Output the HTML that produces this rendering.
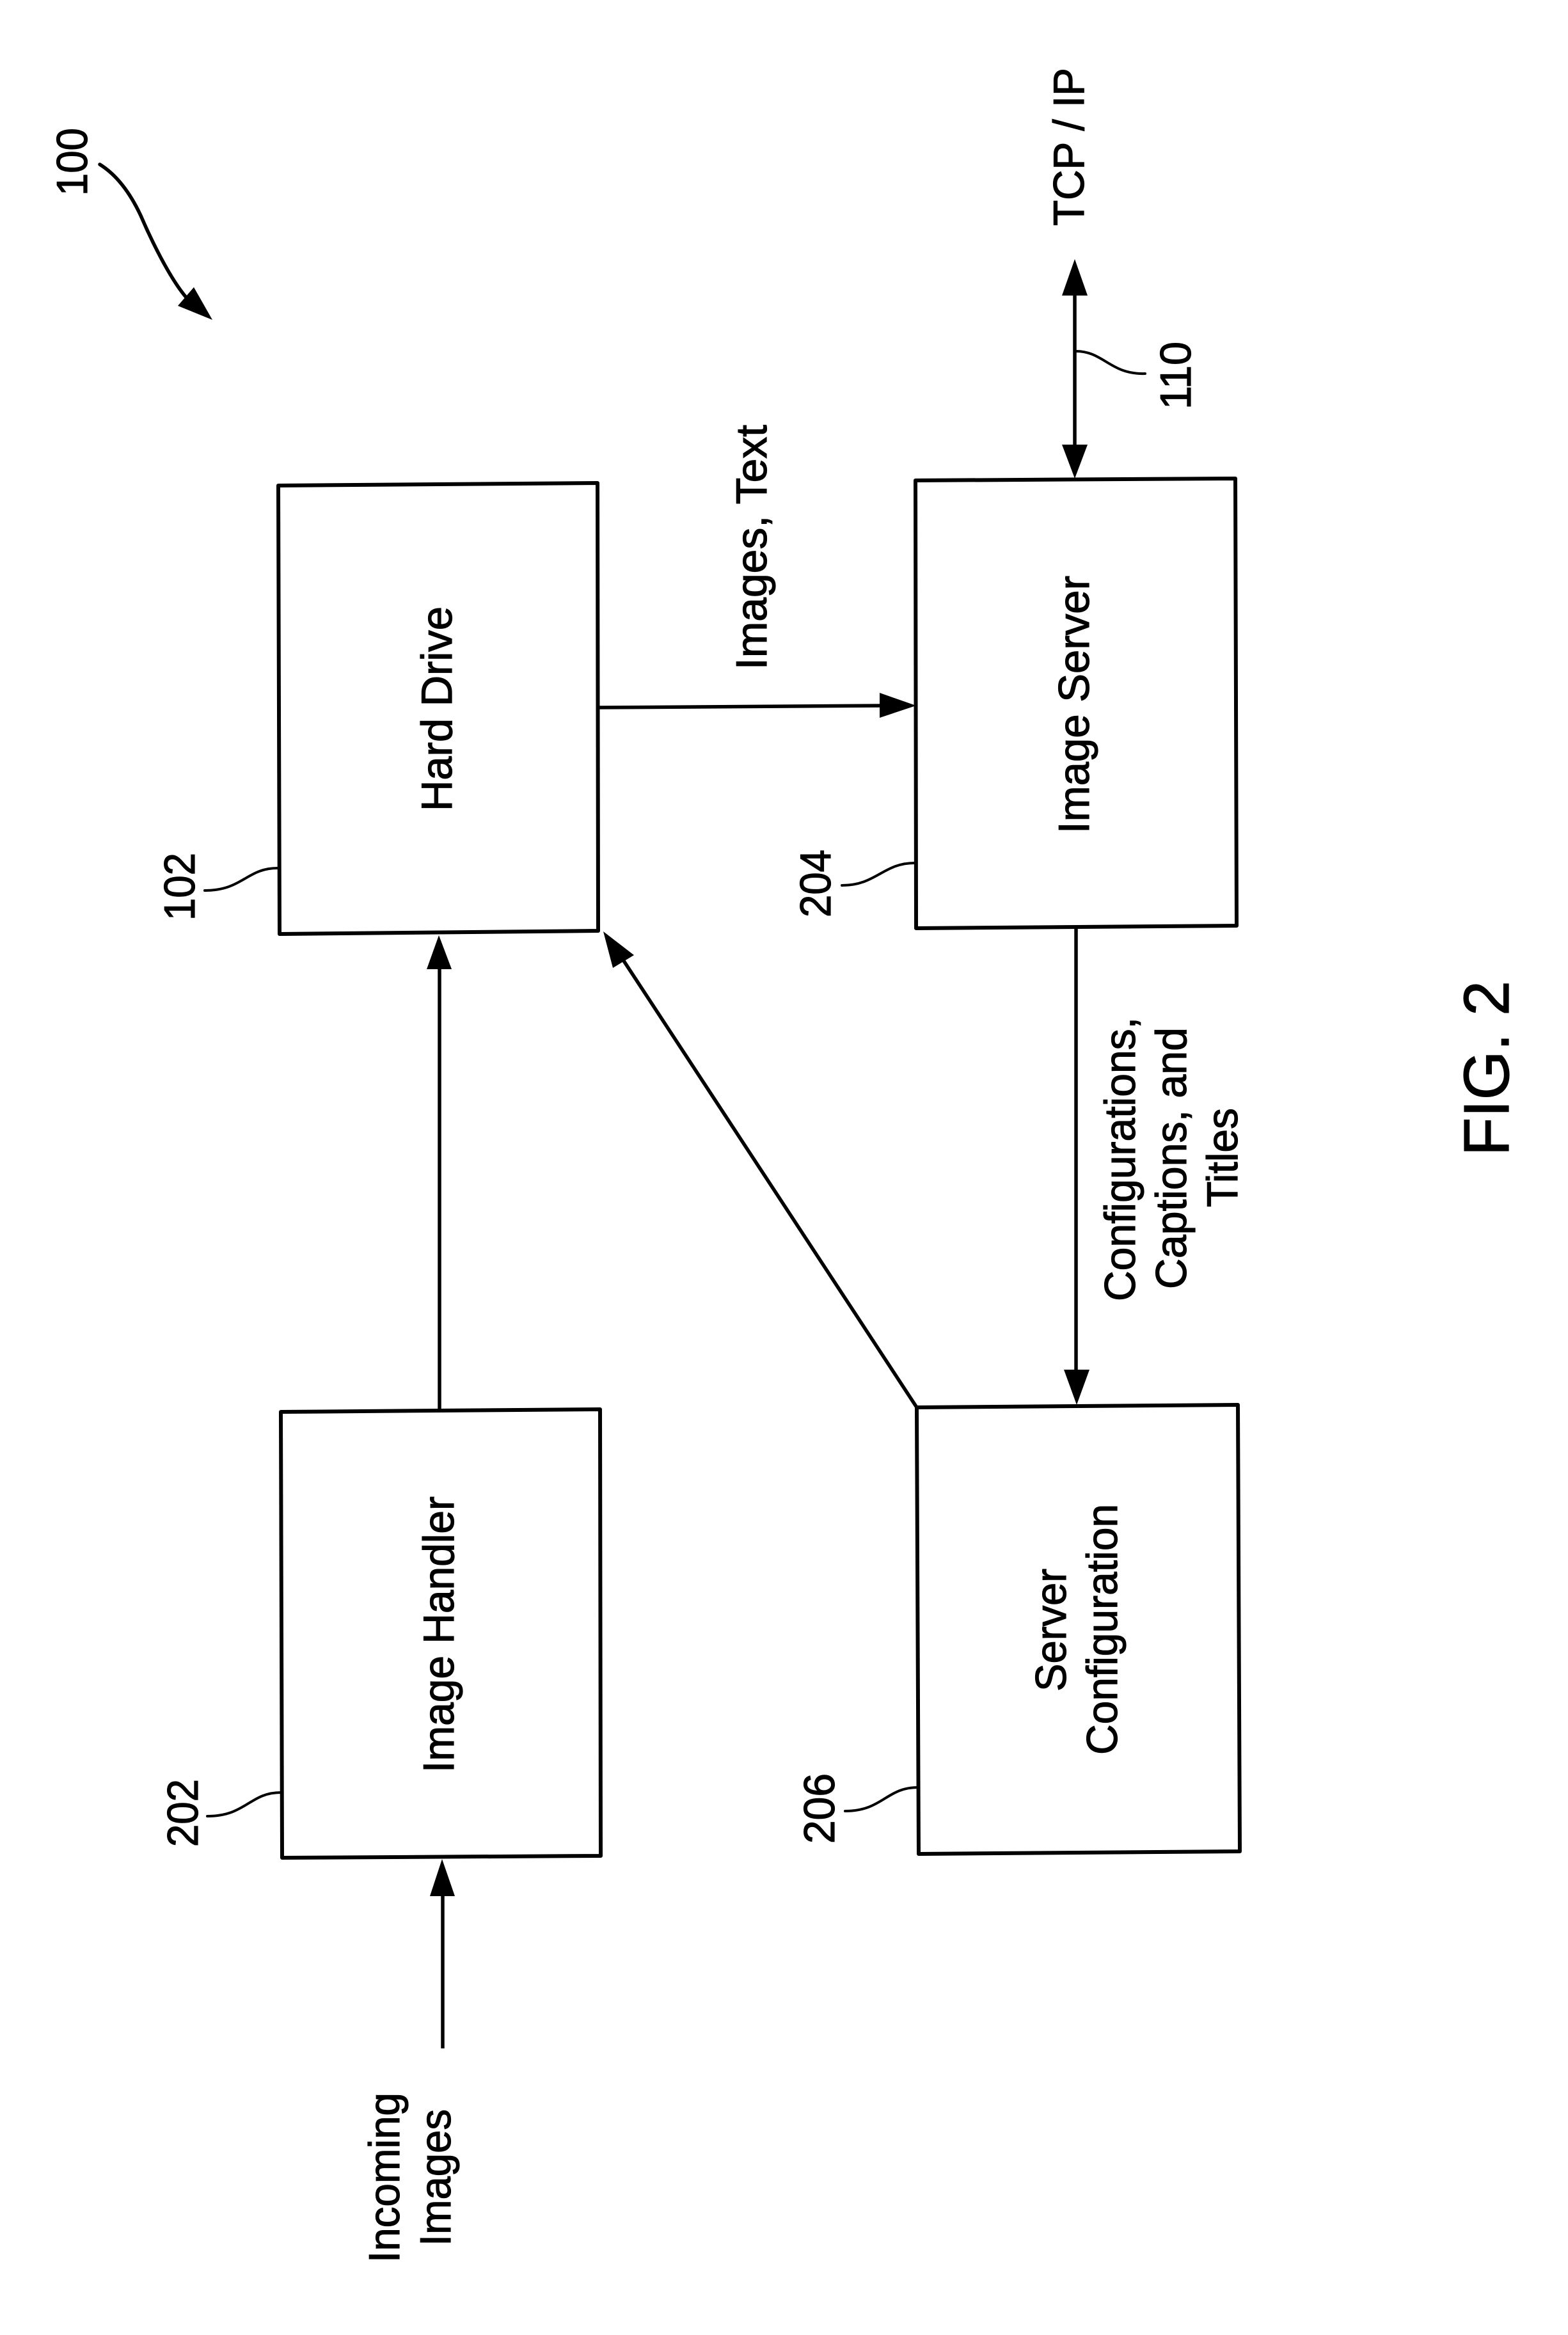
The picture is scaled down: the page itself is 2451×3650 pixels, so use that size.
<!DOCTYPE html>
<html><head><meta charset="utf-8"><style>
html,body{margin:0;padding:0;background:#fff}
svg{display:block}
text{font-family:"Liberation Sans",sans-serif;font-size:68px;fill:#000;stroke:#000;stroke-width:1.2px}
.b{fill:#fff;stroke:#000;stroke-width:6;stroke-linejoin:round}
.l{stroke:#000;stroke-width:5.5;fill:none}
.t{stroke:#000;stroke-width:4;fill:none;stroke-linecap:round}
</style></head><body>
<svg width="2451" height="3650" viewBox="0 0 2451 3650" xmlns="http://www.w3.org/2000/svg">
<rect width="2451" height="3650" fill="#fff"/>
<polygon class="b" points="435,759 934,755 935,1455 437,1460"/>
<polygon class="b" points="1431,751 1931,748 1933,1447 1432,1451"/>
<polygon class="b" points="439,2207 938,2203 939,2901 441,2904"/>
<polygon class="b" points="1433,2200 1935,2196 1938,2894 1436,2898"/>

<line class="l" x1="935" y1="1106" x2="1380" y2="1103"/>
<polygon points="1432,1103 1375,1083 1375,1122"/>
<line class="l" x1="1680" y1="455" x2="1680" y2="700"/>
<polygon points="1680,405 1660,462 1700,462"/>
<polygon points="1680,748 1660,695 1700,695"/>
<line class="l" x1="687" y1="2203" x2="687" y2="1510"/>
<polygon points="686,1462 667,1515 706,1515"/>
<line class="l" x1="1682" y1="1451" x2="1682" y2="2145"/>
<polygon points="1683,2196 1663,2141 1703,2141"/>
<line class="l" x1="1433" y1="2200" x2="975" y2="1502"/>
<polygon points="943,1456 958,1513 991,1493"/>
<line class="l" x1="692" y1="3202" x2="692" y2="2960"/>
<polygon points="691,2906 672,2964 711,2964"/>

<path class="t" style="stroke-width:5.5" d="M156,257 C185,275 205,305 220,337 C235,372 265,435 292,466"/>
<polygon points="332,500 278,478 303,449"/>
<path class="t" d="M1680,549 C1725,548 1735,586 1790,584"/>
<path class="t" d="M434,1357 C385,1357 380,1392 320,1392"/>
<path class="t" d="M1430,1349 C1380,1349 1370,1384 1316,1384"/>
<path class="t" d="M439,2802 C390,2802 385,2839 324,2839"/>
<path class="t" d="M1435,2794 C1385,2794 1380,2831 1321,2831"/>

<text transform="translate(706,1268) rotate(-90)" textLength="320" lengthAdjust="spacingAndGlyphs">Hard Drive</text>
<text transform="translate(1702,1303) rotate(-90)" textLength="403" lengthAdjust="spacingAndGlyphs">Image Server</text>
<text transform="translate(1198,1047) rotate(-90)" textLength="383" lengthAdjust="spacingAndGlyphs">Images, Text</text>
<text transform="translate(1694,353) rotate(-90)" textLength="247" lengthAdjust="spacingAndGlyphs">TCP / IP</text>
<text transform="translate(136,306) rotate(-90)" textLength="106" lengthAdjust="spacingAndGlyphs">100</text>
<text transform="translate(1861,640) rotate(-90)" textLength="106" lengthAdjust="spacingAndGlyphs">110</text>
<text transform="translate(304,1439) rotate(-90)" textLength="106" lengthAdjust="spacingAndGlyphs">102</text>
<text transform="translate(1298,1434) rotate(-90)" textLength="106" lengthAdjust="spacingAndGlyphs">204</text>
<text transform="translate(309,2887) rotate(-90)" textLength="106" lengthAdjust="spacingAndGlyphs">202</text>
<text transform="translate(1304,2882) rotate(-90)" textLength="110" lengthAdjust="spacingAndGlyphs">206</text>
<text transform="translate(1774,2034) rotate(-90)" textLength="444" lengthAdjust="spacingAndGlyphs">Configurations,</text>
<text transform="translate(1854,2015) rotate(-90)" textLength="409" lengthAdjust="spacingAndGlyphs">Captions, and</text>
<text transform="translate(1934,1887) rotate(-90)" textLength="155" lengthAdjust="spacingAndGlyphs">Titles</text>
<text transform="translate(2358,1807) rotate(-90)" style="font-size:100px" textLength="274" lengthAdjust="spacingAndGlyphs">FIG. 2</text>
<text transform="translate(1666,2644) rotate(-90)" textLength="192" lengthAdjust="spacingAndGlyphs">Server</text>
<text transform="translate(1746,2743) rotate(-90)" textLength="392" lengthAdjust="spacingAndGlyphs">Configuration</text>
<text transform="translate(709,2771) rotate(-90)" textLength="432" lengthAdjust="spacingAndGlyphs">Image Handler</text>
<text transform="translate(624,3537) rotate(-90)" textLength="266" lengthAdjust="spacingAndGlyphs">Incoming</text>
<text transform="translate(704,3511) rotate(-90)" textLength="214" lengthAdjust="spacingAndGlyphs">Images</text>
</svg>
</body></html>
